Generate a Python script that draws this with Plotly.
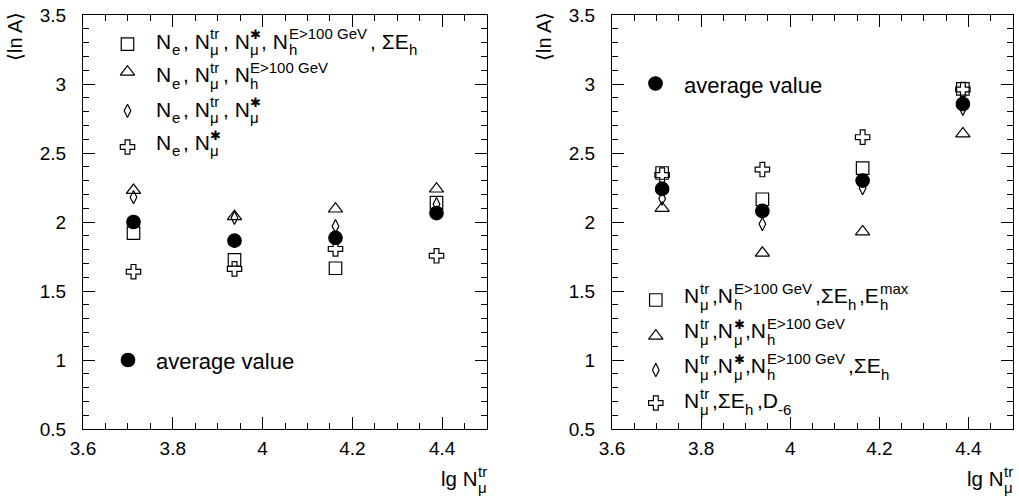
import plotly.graph_objects as go

W, H = 1019, 497

# bin centres in lg N_mu^tr
lg_nmu = [3.7125, 3.9375, 4.1625, 4.3875]

# left panel: combinations including N_e
left_avg = [2.00, 1.865, 1.885, 2.065]
left_sq = [1.92, 1.725, 1.665, 2.14]
left_tri = [2.23, 2.04, 2.095, 2.24]
left_dia = [2.18, 2.03, 1.97, 2.13]
left_crs = [1.64, 1.66, 1.805, 1.755]

# right panel: combinations without N_e
right_avg = [2.24, 2.08, 2.30, 2.855]
right_sq = [2.355, 2.165, 2.39, 2.965]
right_tri = [2.10, 1.775, 1.93, 2.64]
right_dia = [2.17, 1.985, 2.245, 2.82]
right_crs = [2.34, 2.38, 2.615, 2.96]

x_ticks = [3.6, 3.8, 4.0, 4.2, 4.4]
x_tick_text = ["3.6", "3.8", "4", "4.2", "4.4"]
y_ticks = [0.5, 1.0, 1.5, 2.0, 2.5, 3.0, 3.5]
y_tick_text = ["0.5", "1", "1.5", "2", "2.5", "3", "3.5"]

FONT = "Liberation Sans, Arial, Helvetica, sans-serif"

SYM = {
    "sq": dict(symbol="square-open", size=12.5),
    "tri": dict(symbol="triangle-up-open", size=12.5),
    "dia": dict(symbol="diamond-tall-open", size=9.5),
    "crs": dict(symbol="cross-open", size=12),
    "avg": dict(symbol="circle", size=13.5),
}


def marker(kind):
    m = dict(color="black", line=dict(color="black", width=1.2))
    m.update(SYM[kind])
    return m


fig = go.Figure()

panels = [
    ("x", "y", dict(sq=left_sq, tri=left_tri, dia=left_dia, crs=left_crs, avg=left_avg)),
    ("x2", "y2", dict(sq=right_sq, tri=right_tri, dia=right_dia, crs=right_crs, avg=right_avg)),
]
for xa, ya, series in panels:
    for kind in ["tri", "dia", "sq", "crs", "avg"]:
        fig.add_trace(go.Scatter(
            x=lg_nmu, y=series[kind], mode="markers", marker=marker(kind),
            xaxis=xa, yaxis=ya, showlegend=False, cliponaxis=False,
        ))

# ---- legend text built from pieces (stacked sub/superscripts) ----
ADV = {
    'N': .722, 'e': .556, ',': .278, ' ': .278, 't': .278, 'r': .333, 'μ': .576,
    '*': .389, 'E': .667, '>': .584, '1': .556, '0': .556, 'G': .778, 'V': .667,
    'h': .556, 'Σ': .618, 'D': .722, '-': .333, '6': .556, 'm': .833, 'a': .556,
    'x': .5, 'l': .222, 'g': .556, 'A': .667, 'n': .556, 'v': .5, 'u': .556,
    '✱': .6,
}
STAR = "✱"


def text_width(s, size):
    return sum(ADV.get(c, 0.6) for c in s) * size


annotations = []


def add_text(txt, px, base, fs):
    annotations.append(dict(
        text=txt.replace(">", "&gt;"), x=px, y=base - 0.3465 * fs,
        xref="x3", yref="y3", xanchor="left", yanchor="middle",
        showarrow=False, borderpad=0,
        font=dict(family=FONT, size=fs, color="black"),
    ))


def rich_line(parts, x0, base, size=21, ssize=15, anchor="left"):
    pieces = []
    x = x0
    for p in parts:
        if isinstance(p, str):
            pieces.append((p, x, base, size))
            x += text_width(p, size)
        else:
            sup, sub = p
            x += 0.5
            w = 0
            if sup == STAR:
                pieces.append((STAR, x, base - 9.5, 13))
                w = max(w, text_width(STAR, 13))
            elif sup:
                pieces.append((sup, x, base - 9.5, ssize))
                w = max(w, text_width(sup, ssize))
            if sub:
                pieces.append((sub, x, base + 6.5, ssize))
                w = max(w, text_width(sub, ssize))
            x += w + 3
    shift = -(x - x0) if anchor == "right" else 0
    for txt, px, b, fs in pieces:
        add_text(txt, px + shift, b, fs)


MU_TR = ("tr", "μ")
MU_ST = (STAR, "μ")
H_E = ("E>100 GeV", "h")

left_rows = [
    ("sq", ["N", (None, "e"), ", N", MU_TR, ", N", MU_ST, ", N", H_E, ", ΣE", (None, "h")]),
    ("tri", ["N", (None, "e"), ", N", MU_TR, ", N", H_E]),
    ("dia", ["N", (None, "e"), ", N", MU_TR, ", N", MU_ST]),
    ("crs", ["N", (None, "e"), ", N", MU_ST]),
]
left_base = [48.5, 82, 116.5, 149.5]
left_mark_y = [44.2, 72, 110.8, 147]

right_rows = [
    ("sq", ["N", MU_TR, ",N", H_E, ",ΣE", (None, "h"), ",E", ("max", "h")]),
    ("tri", ["N", MU_TR, ",N", MU_ST, ",N", H_E]),
    ("dia", ["N", MU_TR, ",N", MU_ST, ",N", H_E, ",ΣE", (None, "h")]),
    ("crs", ["N", MU_TR, ",ΣE", (None, "h"), ",D", (None, "-6")]),
]
right_base = [303, 338, 373, 408]
right_mark_y = [300, 336, 370, 403]

sw_x, sw_y, sw_kind = [], [], []
for (kind, parts), b, my in zip(left_rows, left_base, left_mark_y):
    rich_line(parts, 155, b)
    sw_x.append(127.5); sw_y.append(my); sw_kind.append(kind)
for (kind, parts), b, my in zip(right_rows, right_base, right_mark_y):
    rich_line(parts, 683.3, b)
    sw_x.append(655.8); sw_y.append(my); sw_kind.append(kind)

# "average value" entries
rich_line(["average value"], 155, 369, size=22)
rich_line(["average value"], 683.3, 93, size=22)
sw_x += [128, 655.5]; sw_y += [360, 83.5]; sw_kind += ["avg", "avg"]

for k in ["sq", "tri", "dia", "crs", "avg"]:
    idx = [i for i, kk in enumerate(sw_kind) if kk == k]
    fig.add_trace(go.Scatter(
        x=[sw_x[i] for i in idx], y=[sw_y[i] for i in idx], mode="markers",
        marker=marker(k), xaxis="x3", yaxis="y3", showlegend=False,
        cliponaxis=False, hoverinfo="skip",
    ))

# axis titles
rich_line(["lg N", ("tr", "μ")], 489, 486, size=20.5, anchor="right")
rich_line(["lg N", ("tr", "μ")], 1015, 486, size=20.5, anchor="right")
for cx in (15, 544):
    annotations.append(dict(
        text="⟨ln A⟩", x=cx, y=37, xref="x3", yref="y3",
        xanchor="center", yanchor="middle", textangle=-90, showarrow=False,
        font=dict(family=FONT, size=20, color="black"),
    ))


def xaxis(dom):
    return dict(
        domain=[dom[0] / W, dom[1] / W], range=[3.6, 4.5],
        tickmode="array", tickvals=x_ticks, ticktext=x_tick_text,
        ticks="inside", ticklen=12, tickwidth=1, tickcolor="black",
        minor=dict(dtick=0.05, tick0=3.6, ticks="inside", ticklen=6, tickwidth=1, tickcolor="black"),
        showline=True, linecolor="black", linewidth=1, mirror="ticks",
        showgrid=False, zeroline=False, ticklabelstandoff=2, automargin=False,
        tickfont=dict(family=FONT, size=19, color="black"),
    )


def yaxis(anchor):
    return dict(
        domain=[1 - 429 / H, 1 - 15 / H], range=[0.5, 3.5], anchor=anchor,
        tickmode="array", tickvals=y_ticks, ticktext=y_tick_text,
        ticks="inside", ticklen=12, tickwidth=1, tickcolor="black",
        minor=dict(dtick=0.1, tick0=0.5, ticks="inside", ticklen=6, tickwidth=1, tickcolor="black"),
        showline=True, linecolor="black", linewidth=1, mirror="ticks",
        showgrid=False, zeroline=False, ticklabelstandoff=12, automargin=False,
        tickfont=dict(family=FONT, size=19, color="black"),
    )


xa1 = xaxis((83, 487)); xa1["anchor"] = "y"
xa2 = xaxis((612, 1013)); xa2["anchor"] = "y2"

fig.update_layout(
    width=W, height=H,
    margin=dict(l=0, r=0, t=0, b=0, pad=0, autoexpand=False),
    paper_bgcolor="white", plot_bgcolor="rgba(0,0,0,0)",
    xaxis=xa1, yaxis=yaxis("x"), xaxis2=xa2, yaxis2=yaxis("x2"),
    xaxis3=dict(domain=[0, 1], range=[0, W], visible=False, anchor="y3", fixedrange=True),
    yaxis3=dict(domain=[0, 1], range=[H, 0], visible=False, anchor="x3", fixedrange=True),
    annotations=annotations, showlegend=False,
    font=dict(family=FONT, color="black"),
)

fig.write_html("out.html")
